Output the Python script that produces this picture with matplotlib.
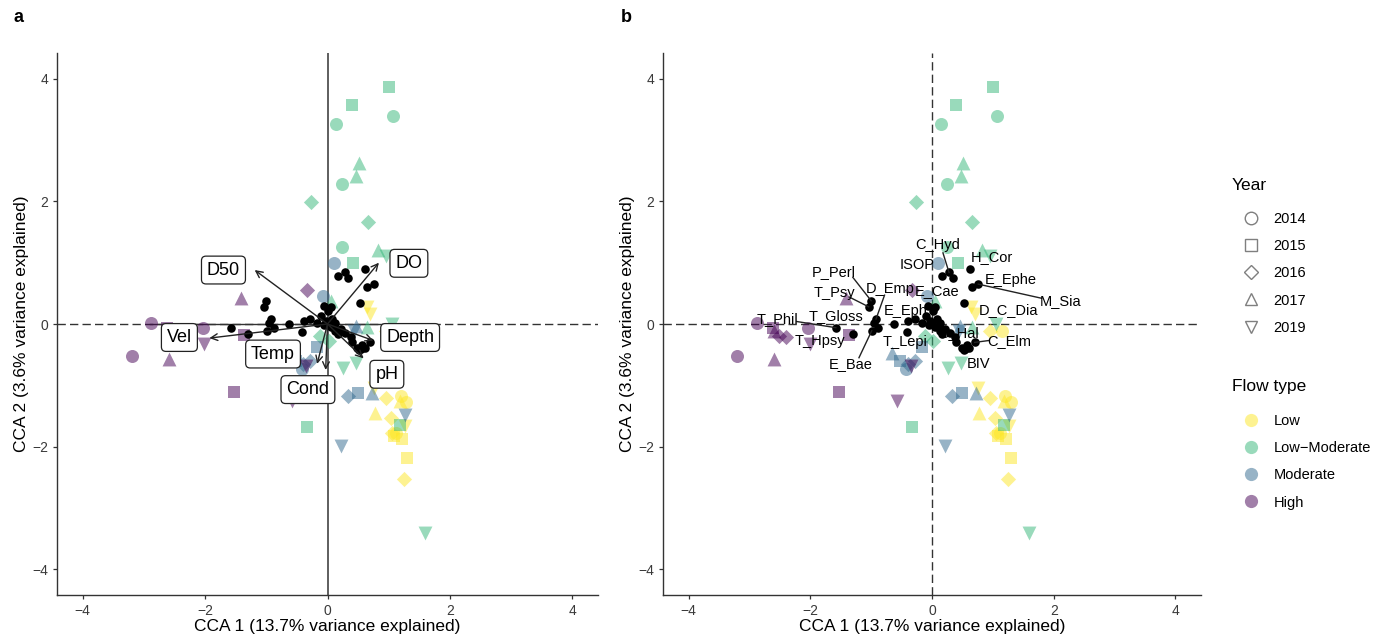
import numpy as np
import matplotlib
matplotlib.use("Agg")
import matplotlib.pyplot as plt
from matplotlib.lines import Line2D

plt.rcParams['font.family'] = ['Liberation Sans', 'DejaVu Sans']

# site scores (CCA1, CCA2), flow type and year
site_cca1 = [1.07, 0.14, 0.24, 0.24, 1.00, 0.40, 0.42, -0.33, 1.18,
             -0.27, 0.66, 0.02, -0.12, 0.51, 0.47, 0.82, 0.65, 0.05,
             0.95, 0.26, 0.47, 1.05, 1.60,
             0.10, -0.08, -0.42, -0.17, 0.50, -0.52, 0.33, -0.40, -0.28,
             0.73, -0.66, 0.46, 0.22, 1.27, 0.44,
             -2.88, -2.03, -3.20, -1.52, -1.36, -2.62, -0.33, -2.40, -2.52,
             -1.41, -2.59, -2.60, -2.01, -0.58, -0.35,
             1.20, 1.29, 1.12, 1.15, 1.21, 1.30, 1.09, 0.95, 1.03, 1.05, 1.25,
             0.95, 0.77, 1.18, 0.76, 1.27, 0.64, 0.70]
site_cca2 = [3.40, 3.27, 2.29, 1.25, 3.87, 3.58, 1.00, -1.68, -1.65,
             1.99, 1.66, -0.28, -0.20, 2.63, 2.41, 1.20, -0.05, 0.38,
             1.11, -0.72, -0.64, 0.00, -3.41,
             1.00, 0.46, -0.74, -0.38, -1.12, -0.60, -1.18, -0.66, -0.60,
             -1.12, -0.48, -0.04, -1.99, -1.49, -0.11,
             0.02, -0.07, -0.53, -1.11, -0.18, -0.06, 0.56, -0.22, -0.20,
             0.43, -0.57, -0.12, -0.33, -1.25, -0.68,
             -1.17, -1.28, -1.78, -0.12, -1.88, -2.18, -1.82, -1.20, -1.53, -1.77, -2.52,
             -0.12, -1.45, -1.26, -1.04, -1.66, 0.28, 0.16]
site_flow = (['Low-Moderate'] * 23 + ['Moderate'] * 15 + ['High'] * 15 + ['Low'] * 18)
site_year = [2014, 2014, 2014, 2014, 2015, 2015, 2015, 2015, 2015,
             2016, 2016, 2016, 2016, 2017, 2017, 2017, 2017, 2017,
             2019, 2019, 2019, 2019, 2019,
             2014, 2014, 2014, 2015, 2015, 2015, 2016, 2016, 2016,
             2017, 2017, 2017, 2019, 2019, 2019,
             2014, 2014, 2014, 2015, 2015, 2015, 2016, 2016, 2016,
             2017, 2017, 2017, 2019, 2019, 2019,
             2014, 2014, 2014, 2014, 2015, 2015, 2015, 2016, 2016, 2016, 2016,
             2016, 2017, 2017, 2019, 2019, 2019, 2019]

# species scores
spec_cca1 = [-1.58, -1.30, -1.00, -1.04, -0.92, -0.96, -0.88, -0.99, -0.63, -0.39,
             -0.28, -0.41, -0.17, -0.10, -0.03, 0.01, -0.06, 0.05, 0.08, 0.13,
             0.11, 0.13, 0.17, 0.29, 0.38, 0.40, 0.49, 0.54, 0.61, 0.70,
             0.17, 0.28, 0.34, 0.62, 0.65, 0.76, 0.53, 0.00, -0.05, 0.05,
             0.22, 0.57, 0.52]
spec_cca2 = [-0.06, -0.16, 0.38, 0.28, 0.08, 0.02, -0.06, -0.11, 0.00, 0.05,
             0.08, -0.13, 0.02, 0.13, 0.05, 0.21, 0.29, 0.28, 0.08, 0.02,
             -0.03, -0.11, -0.16, -0.14, -0.22, -0.30, -0.39, -0.41, -0.39, -0.30,
             0.78, 0.84, 0.75, 0.89, 0.60, 0.65, 0.35, 0.00, -0.02, -0.05,
             -0.08, -0.35, -0.42]

# environmental vectors
env_names = ['D50', 'DO', 'Vel', 'Depth', 'pH', 'Temp', 'Cond']
env_cca1 = [-1.19, 0.84, -1.93, 0.75, 0.59, -0.17, -0.03]
env_cca2 = [0.88, 1.00, -0.23, -0.27, -0.56, -0.65, -0.75]
env_lab_x = [-1.70, 1.33, -2.42, 1.35, 0.97, -0.89, -0.32]
env_lab_y = [0.88, 0.99, -0.22, -0.22, -0.82, -0.49, -1.07]

# species labels (label position, leader end at the point)
sp_names = ['C_Hyd', 'H_Cor', 'ISOP', 'E_Ephe', 'M_Sia', 'P_Perl', 'T_Psy', 'D_Emp',
            'E_Cae', 'T_Gloss', 'T_Phil', 'E_Eph', 'D_C_Dia', 'T_Hpsy', 'T_Lepi',
            'C_Hal', 'C_Elm', 'BIV', 'E_Bae']
sp_lab_x = [0.10, 0.99, -0.25, 1.30, 2.12, -1.62, -1.61, -0.69,
            0.08, -1.58, -2.54, -0.44, 1.25, -1.84, -0.44,
            0.43, 1.27, 0.76, -1.34]
sp_lab_y = [1.29, 1.09, 0.96, 0.71, 0.37, 0.85, 0.51, 0.57,
            0.54, 0.13, 0.08, 0.22, 0.22, -0.28, -0.29,
            -0.14, -0.27, -0.65, -0.66]
sp_pt_x = [0.28, None, None, None, 0.76, -1.00, -1.04, -0.92,
           None, None, -1.58, None, None, None, None,
           None, 0.70, None, -0.99]
sp_pt_y = [0.84, None, None, None, 0.65, 0.38, 0.28, 0.08,
           None, None, -0.06, None, None, None, None,
           None, -0.30, None, -0.11]
sp_lead_x = [0.18, None, None, None, 1.80, -1.30, -1.36, -0.78,
             None, None, -2.22, None, None, None, None,
             None, 0.93, None, -1.20]
sp_lead_y = [1.16, None, None, None, 0.42, 0.76, 0.44, 0.47,
             None, None, 0.04, None, None, None, None,
             None, -0.27, None, -0.55]

flow_levels = ['Low', 'Low-Moderate', 'Moderate', 'High']
flow_colors = {'Low': '#FDE725', 'Low-Moderate': '#35B779',
               'Moderate': '#31688E', 'High': '#440154'}
year_levels = [2014, 2015, 2016, 2017, 2019]
year_markers = {2014: 'o', 2015: 's', 2016: 'D', 2017: '^', 2019: 'v'}
year_sizes = {2014: 88, 2015: 76, 2016: 60, 2017: 100, 2019: 100}

fig = plt.figure(figsize=(13.81, 6.37), dpi=100)
axa = fig.add_axes([57 / 1381, 42 / 637, 541 / 1381, 542 / 637])
axb = fig.add_axes([663 / 1381, 42 / 637, 538 / 1381, 542 / 637])

sx = np.array(site_cca1)
sy = np.array(site_cca2)
flows = np.array(site_flow)
years = np.array(site_year)


def draw_sites(ax):
    for f in flow_levels:
        for yr in year_levels:
            m = (flows == f) & (years == yr)
            if m.any():
                ax.scatter(sx[m], sy[m], marker=year_markers[yr], s=year_sizes[yr],
                           color=flow_colors[f], alpha=0.5, linewidths=0, zorder=2)


def style(ax):
    ax.set_xlim(-4.42, 4.42)
    ax.set_ylim(-4.42, 4.42)
    ax.set_xticks([-4, -2, 0, 2, 4])
    ax.set_yticks([-4, -2, 0, 2, 4])
    ax.set_xticklabels(['\u22124', '\u22122', '0', '2', '4'])
    ax.set_yticklabels(['\u22124', '\u22122', '0', '2', '4'])
    for s in ['top', 'right']:
        ax.spines[s].set_visible(False)
    for s in ['left', 'bottom']:
        ax.spines[s].set_color('#333333')
        ax.spines[s].set_linewidth(1.0)
    ax.tick_params(colors='#333333', labelcolor='#3a3a3a', labelsize=10, length=3, width=0.9)
    ax.set_xlabel('CCA 1 (13.7% variance explained)', fontsize=12.5, labelpad=1)
    ax.set_ylabel('CCA 2 (3.6% variance explained)', fontsize=12.5, labelpad=2)


# panel a
axa.axhline(0, color='#333333', lw=1, ls=(0, (6, 3)), zorder=1)
axa.plot([-2.9, 1.15], [0, 0], color='#333333', lw=1, zorder=1)
axa.axvline(0, color='#333333', lw=1.1, zorder=1)
draw_sites(axa)
axa.scatter(spec_cca1, spec_cca2, s=38, color='black', zorder=3, linewidths=0)
for name, ex, ey, lx, ly in zip(env_names, env_cca1, env_cca2, env_lab_x, env_lab_y):
    axa.annotate('', xy=(ex, ey), xytext=(0, 0),
                 arrowprops=dict(arrowstyle='->', color='#222222', lw=1.0,
                                 shrinkA=0, shrinkB=0, mutation_scale=12), zorder=4)
    axa.text(lx, ly, name, fontsize=13, ha='center', va='center', zorder=5,
             bbox=dict(boxstyle='round,pad=0.3,rounding_size=0.25', fc='white',
                       ec='#222222', lw=0.9))
style(axa)

# panel b
axb.axhline(0, color='#333333', lw=1, ls=(0, (6, 3)), zorder=1)
axb.axvline(0, color='#333333', lw=1, ls=(0, (6, 3)), zorder=1)
draw_sites(axb)
axb.scatter(spec_cca1, spec_cca2, s=38, color='black', zorder=3, linewidths=0)
for i, name in enumerate(sp_names):
    if sp_pt_x[i] is not None:
        axb.plot([sp_pt_x[i], sp_lead_x[i]], [sp_pt_y[i], sp_lead_y[i]],
                 color='#222222', lw=1.0, zorder=4)
    axb.text(sp_lab_x[i], sp_lab_y[i], name, fontsize=10.5, ha='center', va='center',
             color='black', zorder=5)
style(axb)

fig.text(14 / 1381, 1 - 18 / 637, 'a', fontsize=13, fontweight='bold', va='center')
fig.text(621 / 1381, 1 - 18 / 637, 'b', fontsize=13, fontweight='bold', va='center')

# legends
fig.text(1232 / 1381, 1 - 185 / 637, 'Year', fontsize=12.5, va='center')
fig.text(1232 / 1381, 1 - 386 / 637, 'Flow type', fontsize=12.5, va='center')
year_handles = [Line2D([], [], marker=year_markers[y], ls='', markersize=9 if y != 2016 else 7.5,
                       markerfacecolor='white', markeredgecolor='#7f7f7f', markeredgewidth=1.0)
                for y in year_levels]
leg1 = fig.legend(year_handles, [str(y) for y in year_levels],
                  loc='upper left', bbox_to_anchor=(1232 / 1381, 1 - 202 / 637),
                  frameon=False, fontsize=10.5,
                  labelspacing=0.9, handletextpad=0.95, handlelength=1.2, borderpad=0.2)
flow_handles = [Line2D([], [], marker='o', ls='', markersize=9.5, color=flow_colors[f],
                       alpha=0.5, markeredgewidth=0) for f in flow_levels]
leg2 = fig.legend(flow_handles, ['Low', 'Low\u2212Moderate', 'Moderate', 'High'],
                  loc='upper left', bbox_to_anchor=(1232 / 1381, 1 - 404 / 637),
                  frameon=False, fontsize=10.5,
                  labelspacing=0.9, handletextpad=0.95, handlelength=1.2, borderpad=0.2)

fig.savefig('out.png', dpi=100)
